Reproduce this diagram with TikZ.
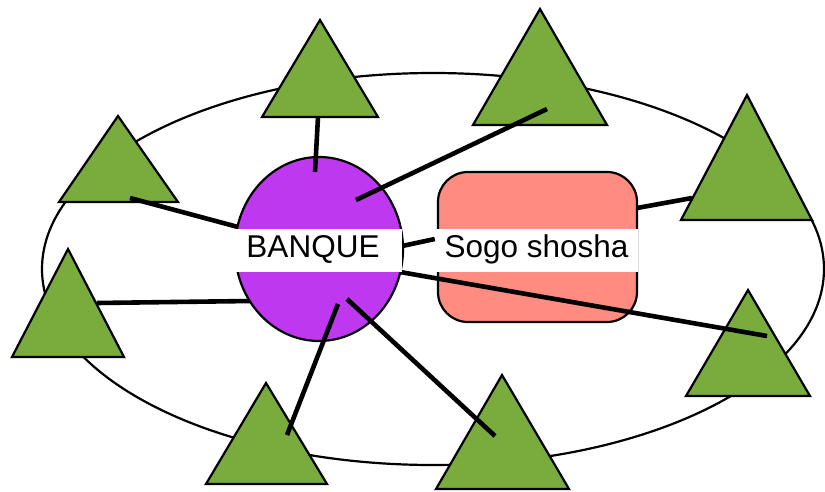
\documentclass[tikz,border=0pt]{standalone}
\usepackage{fontspec}
\setmainfont{Liberation Sans}
\usetikzlibrary{shapes.geometric}
\definecolor{trigreen}{HTML}{79AC3D}
\definecolor{bankpurple}{HTML}{BE38F0}
\definecolor{sogosalmon}{HTML}{FF8C80}
\tikzset{
  tri/.style={draw=black, fill=trigreen, line width=2.2pt, line join=miter},
  link/.style={draw=black, line width=4.6pt},
  ring/.style={draw=black, line width=2.2pt, ellipse, inner sep=0pt},
  lbl/.style={fill=white, inner sep=0pt, font=\fontsize{31.5}{33}\selectfont, text height=22pt, text depth=8pt, minimum height=43pt}
}
\begin{document}
\begin{tikzpicture}[x=1pt,y=-1pt]
\useasboundingbox (0,0) rectangle (825,491);
% outer ring
\node[ring, minimum width=782pt, minimum height=392pt] (ring) at (433,269) {};
% triangles
\path[tri] (320,20) -- (378,117) -- (262,117) -- cycle;
\path[tri] (540,9) -- (607,125) -- (473,125) -- cycle;
\path[tri] (747,95) -- (812,220) -- (681,220) -- cycle;
\path[tri] (118,116) -- (178,202) -- (59,202) -- cycle;
\path[tri] (68,249) -- (124,357) -- (12,357) -- cycle;
\path[tri] (266,383) -- (327,484) -- (206,484) -- cycle;
\path[tri] (502,375) -- (569,489) -- (436,489) -- cycle;
\path[tri] (748,290) -- (810,396) -- (686,396) -- cycle;
% connector end points
\coordinate (t1) at (318,117);
\coordinate (t2) at (547,109);
\coordinate (t3) at (692,198);
\coordinate (t4) at (130,198);
\coordinate (t5) at (97,303);
\coordinate (t6) at (287,435);
\coordinate (t7) at (495,436);
\coordinate (t8) at (767,336);
\coordinate (b1) at (315,172);
\coordinate (b2) at (356,200);
\coordinate (b4) at (238,227);
\coordinate (b5) at (250,301);
\coordinate (b6) at (338,304);
\coordinate (b7) at (347,299);
\coordinate (b8) at (400,272);
\coordinate (s3) at (637,208);
% lines below shapes
\draw[link] (s3) -- (t3);
\draw[link] (t4) -- (b4);
\draw[link] (t5) -- (b5);
% bank and sogo shapes
\node[draw=black, fill=bankpurple, line width=2.2pt, ellipse, inner sep=0pt, minimum width=168pt, minimum height=184pt] (bank) at (319,249) {};
\node[draw=black, fill=sogosalmon, line width=2.2pt, rounded corners=30pt, inner sep=0pt, minimum width=199pt, minimum height=150pt] (sogo) at (537.5,247) {};
% lines above shapes
\draw[link] (t1) -- (b1);
\draw[link] (b2) -- (t2);
\draw[link] (b6) -- (t6);
\draw[link] (b7) -- (t7);
\draw[link] (b8) -- (t8);
% labels
\node[lbl, minimum width=178pt] (banklbl) at (313,250.5) {BANQUE};
\node[lbl, minimum width=203pt] (sogolbl) at (536.5,250.5) {Sogo shosha};
\draw[link] (banklbl.east |- 0,246) -- (sogolbl.west |- 0,239);
\end{tikzpicture}
\end{document}
